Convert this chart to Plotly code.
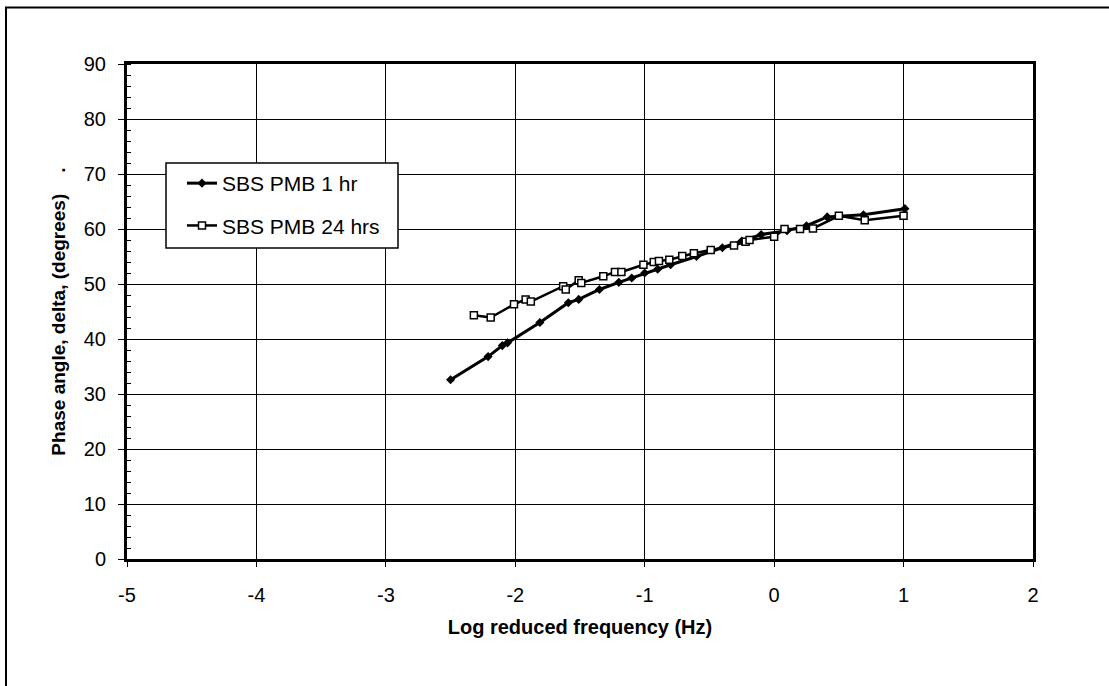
import plotly.graph_objects as go

# Series: SBS PMB 1 hr (filled diamonds)
x_1hr = [-2.50, -2.21, -2.10, -2.06, -1.81, -1.59, -1.51, -1.35, -1.20, -1.10, -1.00,
         -0.90, -0.80, -0.60, -0.40, -0.25, -0.10, 0.10, 0.25, 0.41, 0.69, 1.01]
y_1hr = [32.6, 36.8, 38.8, 39.3, 43.0, 46.6, 47.2, 49.0, 50.3, 51.1, 52.0,
         52.7, 53.5, 55.0, 56.6, 57.8, 59.0, 59.7, 60.6, 62.2, 62.6, 63.7]

# Series: SBS PMB 24 hrs (open squares)
x_24hr = [-2.32, -2.19, -2.01, -1.92, -1.88, -1.63, -1.61, -1.51, -1.49, -1.32, -1.23,
          -1.18, -1.01, -0.93, -0.89, -0.81, -0.71, -0.62, -0.49, -0.31, -0.22, -0.19,
          0.00, 0.08, 0.20, 0.30, 0.50, 0.70, 1.00]
y_24hr = [44.3, 43.9, 46.3, 47.2, 46.8, 49.6, 49.0, 50.7, 50.2, 51.4, 52.2,
          52.2, 53.5, 54.0, 54.2, 54.4, 55.1, 55.6, 56.2, 57.0, 57.7, 58.0,
          58.6, 60.0, 60.0, 60.1, 62.4, 61.6, 62.4]

x_ticks = [-5, -4, -3, -2, -1, 0, 1, 2]
y_ticks = [0, 10, 20, 30, 40, 50, 60, 70, 80, 90]

FONT = "Arial, Liberation Sans, sans-serif"

fig = go.Figure()
fig.add_trace(go.Scatter(
    x=x_1hr, y=y_1hr, mode="lines+markers", name="SBS PMB 1 hr",
    legendgroup="a",
    line=dict(color="black", width=3),
    marker=dict(symbol="diamond", size=7, color="black"),
))
fig.add_trace(go.Scatter(
    x=x_24hr, y=y_24hr, mode="lines+markers", name="SBS PMB 24 hrs",
    legendgroup="b",
    line=dict(color="black", width=2.5),
    marker=dict(symbol="square", size=7, color="white",
                line=dict(color="black", width=1.5)),
))

W, H = 1109, 686
L, R, T, B = 127, 1033, 64, 559


def px(xp):
    return (xp - L) / (R - L)


def py(yp):
    return (B - yp) / (B - T)


fig.update_layout(
    width=W, height=H,
    margin=dict(l=L, r=W - R, t=T, b=H - B, pad=0),
    paper_bgcolor="white", plot_bgcolor="white",
    font=dict(family=FONT, size=20, color="black"),
    showlegend=True,
    legend=dict(
        x=px(182), y=py(163),
        xanchor="left", yanchor="top",
        bgcolor="rgba(0,0,0,0)", borderwidth=0,
        font=dict(family=FONT, size=21, color="black"),
        tracegroupgap=12, traceorder="grouped",
        itemwidth=30,
    ),
    xaxis=dict(
        range=[-5, 2], tickvals=x_ticks, ticktext=[str(v) for v in x_ticks],
        showgrid=True, gridcolor="black", gridwidth=1,
        showline=True, linecolor="black", linewidth=2.5, mirror=True,
        ticks="outside", ticklen=5, tickcolor="black", tickwidth=1,
        ticklabelstandoff=11,
        tickfont=dict(family=FONT, size=20),
        zeroline=False,
        title=dict(text="<b>Log reduced frequency (Hz)</b>",
                   font=dict(family=FONT, size=20), standoff=16),
    ),
    yaxis=dict(
        range=[0, 90], tickvals=y_ticks, ticktext=[str(v) for v in y_ticks],
        showgrid=True, gridcolor="black", gridwidth=1,
        showline=True, linecolor="black", linewidth=3, mirror=True,
        ticks="outside", ticklen=6, tickcolor="black", tickwidth=1,
        ticklabelstandoff=8,
        tickfont=dict(family=FONT, size=20),
        minor=dict(ticks="inside", dtick=2, ticklen=4, tickcolor="black",
                   tickwidth=1, showgrid=False),
        zeroline=False,
        title=dict(text="<b>Phase angle, delta, (degrees)\u00a0\u00a0\u00a0\u00a0.</b>",
                   font=dict(family=FONT, size=19), standoff=14),
    ),
)

# legend box
fig.add_shape(type="rect", xref="paper", yref="paper",
              x0=px(166), x1=px(398), y0=py(248), y1=py(163),
              line=dict(color="black", width=1.5), fillcolor="white",
              layer="above")

# outer frame (left and top edges visible; right and bottom run off-canvas)
fig.add_shape(type="rect", xref="paper", yref="paper",
              x0=px(6), x1=px(1120), y0=py(700), y1=py(7.5),
              line=dict(color="black", width=2), layer="below")

fig.write_html("out.html")
